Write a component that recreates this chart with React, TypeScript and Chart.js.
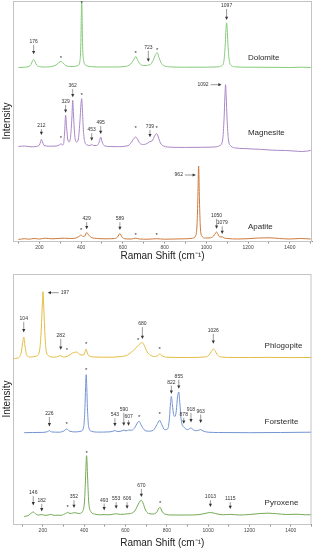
import React, { useEffect, useRef } from "react";
import { Chart, registerables } from "chart.js";

Chart.register(...registerables);

type P = [number, number];

// ---------- upper panel spectra: [Raman shift, intensity above trace baseline] ----------
const dolomite: P[] = [
  [100, 0], [130, 0.3], [150, 1], [160, 3], [167, 6.5], [173, 8], [179, 6], [187, 2.5], [205, 0.8],
  [230, 0.5], [260, 1], [280, 2.5], [294, 5], [304, 6], [314, 4.5], [326, 2], [345, 1], [365, 1],
  [385, 2], [395, 7], [399, 25], [401, 50], [403, 66], [405, 50], [407, 25], [412, 7], [425, 2],
  [450, 0.8], [500, 0.5], [560, 0.5], [610, 1], [635, 3], [650, 7], [662, 11], [672, 7], [685, 3],
  [700, 2], [713, 2], [722, 2.5], [732, 3], [745, 7], [757, 13], [765, 14.7], [773, 10], [785, 4],
  [800, 1.5], [830, 0.6], [900, 0.3], [1000, 0.3], [1050, 0.6], [1075, 2], [1085, 8], [1091, 25],
  [1094, 38], [1097, 44.7], [1100, 38], [1103, 25], [1109, 8], [1120, 2], [1140, 0.6], [1200, 0.3],
  [1300, 0.2], [1400, 0], [1460, 0.3], [1500, 0],
];
const magnesite: P[] = [
  [100, 1.5], [130, 2], [160, 1.2], [185, 1.5], [200, 3], [206, 6], [210, 8.7], [215, 6], [223, 2.5],
  [250, 1.8], [280, 2], [296, 3], [304, 4.3], [311, 3], [316, 4], [321, 15], [326, 32.7], [331, 20],
  [336, 9], [343, 6], [350, 12], [356, 30], [360, 47.7], [364, 32], [370, 12], [378, 6], [386, 8],
  [394, 25], [400, 45], [403, 49.4], [406, 40], [411, 18], [418, 6], [430, 3], [443, 2.5], [451, 3.5],
  [459, 2.5], [475, 2.5], [487, 6], [494, 11], [501, 6], [512, 2.2], [540, 1.5], [580, 1.3], [610, 1.8],
  [630, 3], [645, 7], [655, 10], [662, 11], [670, 9], [680, 5], [700, 3.5], [720, 5], [730, 6.5],
  [740, 7], [752, 12], [762, 14.4], [770, 11], [780, 5], [795, 2], [830, 0.8], [900, 0.6], [980, 0.7],
  [1040, 1], [1065, 2.5], [1078, 8], [1085, 30], [1089, 52], [1092, 63.4], [1095, 52], [1099, 30],
  [1106, 8], [1118, 2], [1140, 0], [1180, -0.5], [1220, -1], [1260, -1.3], [1300, -2], [1340, -2.3],
  [1380, -2.5], [1420, -3], [1460, -3.5], [1500, -2.5],
];
const apatite: P[] = [
  [100, 1.5], [130, 2.3], [150, 1.8], [175, 2.5], [200, 2], [230, 2.8], [260, 2.2], [290, 2.5],
  [320, 2.8], [350, 2.5], [375, 3], [390, 4.5], [400, 6], [410, 4.5], [418, 5], [427, 8.5], [436, 6],
  [450, 3.5], [480, 2.5], [520, 2.2], [560, 2.5], [575, 4], [586, 7.5], [596, 4], [610, 2.2], [640, 2],
  [662, 2.8], [680, 2], [720, 1.8], [762, 2.3], [800, 1.8], [850, 2], [900, 2.2], [935, 2.8], [948, 5],
  [955, 15], [959, 40], [963, 75], [967, 40], [971, 15], [978, 5], [995, 3], [1020, 3.2], [1035, 5],
  [1044, 8], [1049, 9], [1055, 7], [1065, 4], [1076, 4.2], [1085, 3], [1100, 2.5], [1150, 2], [1200, 2.3],
  [1250, 3], [1300, 3.2], [1350, 2.5], [1400, 2], [1450, 2.5], [1500, 2],
];

// ---------- lower panel spectra ----------
const phlogopite: P[] = [
  [56, -0.7], [80, 0], [95, 5], [102, 14], [108, 21], [114, 12], [122, 3], [140, 1], [170, 2], [185, 8],
  [193, 30], [198, 55], [201, 66.3], [204, 55], [209, 30], [216, 8], [230, 2], [260, 0.8], [287, 2.3],
  [300, 1], [320, 1.8], [345, 5], [362, 6], [385, 3], [400, 3.5], [406, 7], [410, 9], [414, 6],
  [422, 2.5], [450, 1], [520, 0.8], [580, 1.5], [610, 3], [635, 7], [655, 11], [672, 14.5], [682, 15.5],
  [692, 12], [705, 6], [720, 3], [740, 1.5], [758, 2.5], [766, 4.3], [775, 2.5], [800, 0.8], [900, 0.5],
  [980, 1], [1005, 3], [1018, 7.5], [1025, 9], [1033, 7.5], [1045, 3], [1065, 1], [1120, 0.5],
  [1200, 0.5], [1300, 0.6], [1400, 0.4], [1500, 0.5],
];
const forsterite: P[] = [
  [110, 0], [150, 0.2], [200, 0.3], [222, 1], [232, 2], [242, 0.8], [280, 0.5], [300, 1.5], [316, 3.7],
  [330, 1.5], [360, 0.8], [385, 1.5], [398, 6], [404, 25], [407, 45], [410, 58], [413, 45], [416, 25],
  [422, 6], [435, 1.5], [470, 0.6], [520, 0.8], [540, 1.5], [549, 2.2], [558, 1.3], [575, 1.3],
  [592, 2.6], [603, 1.8], [615, 2.6], [630, 2.5], [645, 5], [658, 10], [666, 11.3], [675, 8], [690, 3],
  [710, 1.5], [735, 2.5], [752, 8], [766, 12.3], [776, 8], [790, 3], [805, 4], [813, 15], [818, 30],
  [822, 36.3], [827, 28], [833, 18], [840, 16.3], [846, 22], [852, 36], [858, 40.7], [863, 30],
  [869, 14], [876, 7], [882, 6], [890, 4], [900, 3], [910, 4], [917, 5], [924, 3.5], [940, 2],
  [955, 2.5], [964, 3.2], [975, 1.8], [1000, 0.5], [1050, 0.2], [1200, 0], [1350, 0.2], [1500, 0.5],
];
const pyroxene: P[] = [
  [110, -0.4], [130, 0.5], [145, 3], [154, 4], [163, 2.5], [178, 0.9], [195, 1.4], [210, 0.7],
  [225, 0.9], [238, 1.6], [255, 0.7], [290, 0.8], [310, 2.5], [320, 3.6], [332, 2.5], [345, 3],
  [355, 3.3], [375, 2.5], [392, 4.5], [402, 15], [407, 38], [412, 60.3], [417, 38], [422, 15],
  [432, 4.5], [450, 2], [475, 1.2], [497, 1.3], [520, 1.2], [540, 1.8], [555, 2.2], [575, 1.6],
  [595, 1.8], [608, 2.2], [625, 2.5], [645, 5], [660, 11], [671, 15], [677, 15.6], [685, 13], [697, 6],
  [712, 2.5], [735, 2], [752, 4], [762, 8], [768, 8.6], [776, 5], [790, 2], [830, 1], [900, 1],
  [960, 1.5], [990, 2.8], [1011, 3.5], [1035, 2.5], [1070, 1.2], [1107, 1.6], [1150, 1], [1200, 1.5],
  [1250, 2.5], [1290, 2.8], [1330, 2.3], [1380, 1.5], [1430, 1.8], [1470, 1.2], [1500, 1.3],
];

// trace baselines (stacking offsets)
const upperOffsets = [173.5, 93, 0];
const lowerOffsets = [166, 91.3, 8];
const upperNames = ["Dolomite", "Magnesite", "Apatite"];
const lowerNames = ["Phlogopite", "Forsterite", "Pyroxene"];
const upperNameY = [183.7, 108.3, 14.3];
const lowerNameY = [178.6, 102, 21];

// peak labels: [shift, arrow tip value, label value, text]
const upperLabels: [number, number, number, string][] = [
  [173, 186.7, 199.3, "176"], [722, 179.3, 193.3, "723"], [1097, 221, 235.3, "1097"],
  [210, 106, 115, "212"], [326, 128.3, 139.3, "329"], [360, 143.7, 155.3, "362"],
  [451, 100.3, 111, "453"], [494, 107, 118.3, "495"], [730, 103.7, 114.3, "739"],
  [427, 11.7, 22, "429"], [586, 11, 22, "589"], [1049, 12.3, 25.3, "1050"], [1076, 7, 18, "1079"],
];
const lowerLabels: [number, number, number, string][] = [
  [108, 191.6, 205.3, "104"], [287, 174.3, 188.3, "282"], [682, 185, 200, "680"], [1025, 180.3, 193.3, "1026"],
  [232, 97.6, 110.3, "226"], [549, 97.6, 109, "543"], [592, 98.3, 114.3, "590"], [615, 98.3, 107, "607"],
  [822, 130.3, 141.6, "822"], [858, 135.3, 147.6, "855"], [882, 100.3, 109.3, "878"],
  [917, 101.6, 114.3, "918"], [964, 101, 112.6, "963"],
  [154, 18.6, 31, "146"], [195, 12.6, 23.3, "182"], [351, 16, 27, "352"], [497, 13.6, 23.6, "493"],
  [555, 15.3, 25, "553"], [608, 15.3, 25, "606"], [677, 27, 38.3, "670"], [1011, 17, 27, "1013"],
  [1107, 15, 25, "1115"],
];
// sideways arrows: [tip shift, value, text, direction]
const upperSide: [number, number, string, string][] = [
  [1073, 156.3, "1092", "right"], [950, 66, "962", "right"],
];
const lowerSide: [number, number, string, string][] = [[224, 231.3, "197", "left"]];
// asterisks: [shift, value]
const upperStars: P[] = [
  [304, 184], [403, 239.3], [662, 189.3], [765, 192.7],
  [304, 104], [403, 147.7], [662, 114.3], [762, 114.3],
  [400, 12.7], [662, 7], [762, 7],
];
const lowerStars: P[] = [
  [317, 175.3], [410, 181.6], [661, 185.3], [766, 176],
  [410, 155], [316, 101.6], [666, 108.3], [766, 111.6],
  [320, 18.3], [412, 72.6], [768, 22.6],
];

const upperColors = ["#86c97a", "#a987c6", "#cd7a3c"];
const lowerColors = ["#e2bd45", "#7394d2", "#73aa55"];

const FONT = '"Liberation Sans", Arial, Helvetica, sans-serif';

const marksPlugin = {
  id: "peakMarks",
  afterDatasetsDraw(chart: any, _args: any, opts: any) {
    const { ctx, chartArea } = chart;
    const xs = chart.scales.x;
    const ys = chart.scales.y;
    ctx.save();
    // frame
    ctx.strokeStyle = "#c4c4c4";
    ctx.lineWidth = 1;
    ctx.strokeRect(chartArea.left + 0.5, chartArea.top + 0.5, chartArea.right - chartArea.left - 1, chartArea.bottom - chartArea.top);

    const ink = "#333";
    ctx.fillStyle = ink;
    ctx.strokeStyle = "#555";
    ctx.lineWidth = 0.6;
    ctx.font = `5px ${FONT}`;
    ctx.textAlign = "center";
    ctx.textBaseline = "middle";
    for (const [sx, tip, tv, text] of opts.labels) {
      const px = xs.getPixelForValue(sx);
      const pt = ys.getPixelForValue(tip);
      const pl = ys.getPixelForValue(tv);
      ctx.fillText(text, px, pl);
      const y0 = pl + 3.2;
      const y1 = pt - 3;
      if (y1 > y0) {
        ctx.beginPath();
        ctx.moveTo(px, y0);
        ctx.lineTo(px, y1);
        ctx.stroke();
      }
      ctx.beginPath();
      ctx.moveTo(px - 1.6, pt - 3.3);
      ctx.lineTo(px + 1.6, pt - 3.3);
      ctx.lineTo(px, pt);
      ctx.closePath();
      ctx.fill();
    }
    for (const [sx, v, text, dir] of opts.side) {
      const px = xs.getPixelForValue(sx);
      const py = ys.getPixelForValue(v);
      const s = dir === "right" ? -1 : 1;
      ctx.beginPath();
      ctx.moveTo(px + s * 11, py);
      ctx.lineTo(px + s * 3, py);
      ctx.stroke();
      ctx.beginPath();
      ctx.moveTo(px + s * 3.3, py - 1.6);
      ctx.lineTo(px + s * 3.3, py + 1.6);
      ctx.lineTo(px, py);
      ctx.closePath();
      ctx.fill();
      ctx.textAlign = dir === "right" ? "right" : "left";
      ctx.fillText(text, px + s * 13, py);
      ctx.textAlign = "center";
    }
    ctx.font = `6px ${FONT}`;
    ctx.textBaseline = "alphabetic";
    for (const [sx, v] of opts.stars) {
      ctx.fillText("*", xs.getPixelForValue(sx), ys.getPixelForValue(v) + 3.4);
    }
    ctx.font = `8px ${FONT}`;
    ctx.textAlign = "left";
    ctx.textBaseline = "middle";
    ctx.fillStyle = "#2a2a2a";
    for (const [sx, v, text] of opts.names) {
      ctx.fillText(text, xs.getPixelForValue(sx), ys.getPixelForValue(v));
    }
    ctx.restore();
  },
};

function buildConfig(
  series: P[][], offsets: number[], colors: string[], names: string[], nameY: number[],
  xmin: number, xmax: number, ymax: number, nameShift: number,
  labels: any[], side: any[], stars: P[], padTop: number, xAxisH: number, titlePadBottom: number
): any {
  return {
    type: "line",
    data: {
      datasets: series.map((s, i) => ({
        label: names[i],
        data: s.map(([x, v]) => ({ x, y: v + offsets[i] })),
        borderColor: colors[i],
        borderWidth: 1,
        pointRadius: 0,
        fill: false,
        cubicInterpolationMode: "monotone",
      })),
    },
    options: {
      responsive: false,
      animation: false,
      events: [],
      layout: { padding: { top: padTop, right: 1, left: 0, bottom: 0 } },
      plugins: {
        legend: { display: false },
        tooltip: { enabled: false },
        peakMarks: {
          labels,
          side,
          stars,
          names: names.map((n, i) => [nameShift, nameY[i], n]),
        },
      },
      scales: {
        x: {
          type: "linear",
          min: xmin,
          max: xmax,
          afterFit: (a: any) => { a.height = xAxisH; },
          border: { display: true, color: "#8a8a8a", width: 1 },
          grid: { display: true, drawOnChartArea: false, drawTicks: true, tickLength: 2.5, color: "#8a8a8a" },
          ticks: {
            stepSize: 100,
            includeBounds: false,
            autoSkip: false,
            maxRotation: 0,
            padding: 1.5,
            color: "#444",
            font: { family: FONT, size: 5 },
            callback: (v: number) => (v % 200 === 0 ? String(v) : ""),
          },
          title: {
            display: true,
            text: "Raman Shift (cm⁻¹)",
            color: "#222",
            font: { family: FONT, size: 10 },
            padding: { top: 0, bottom: titlePadBottom },
          },
        },
        y: {
          type: "linear",
          min: 0,
          max: ymax,
          afterFit: (a: any) => { a.width = 13; },
          border: { display: false },
          grid: { display: false },
          ticks: { display: false },
          title: {
            display: true,
            text: "Intensity",
            color: "#222",
            font: { family: FONT, size: 10 },
            padding: { top: 1.5, bottom: 0 },
          },
        },
      },
    },
    plugins: [marksPlugin],
  };
}

export default function App() {
  const topRef = useRef<HTMLCanvasElement>(null);
  const botRef = useRef<HTMLCanvasElement>(null);

  useEffect(() => {
    document.body.style.margin = "0";
    Chart.defaults.font.family = FONT;
    const c1 = new Chart(
      topRef.current!,
      buildConfig(
        [dolomite, magnesite, apatite], upperOffsets, upperColors, upperNames, upperNameY,
        74, 1506, 240, 1199, upperLabels, upperSide, upperStars, 1, 27, 6
      )
    );
    const c2 = new Chart(
      botRef.current!,
      buildConfig(
        [phlogopite, forsterite, pyroxene], lowerOffsets, lowerColors, lowerNames, lowerNameY,
        56, 1500, 250, 1273, lowerLabels, lowerSide, lowerStars, 6, 26, 1
      )
    );
    return () => {
      c1.destroy();
      c2.destroy();
    };
  }, []);

  return (
    <div style={{ position: "fixed", left: 0, top: 0, width: 313, height: 550, background: "#fff" }}>
      <canvas ref={topRef} width={313} height={268} style={{ display: "block", width: 313, height: 268 }} />
      <canvas ref={botRef} width={313} height={282} style={{ display: "block", width: 313, height: 282 }} />
    </div>
  );
}
